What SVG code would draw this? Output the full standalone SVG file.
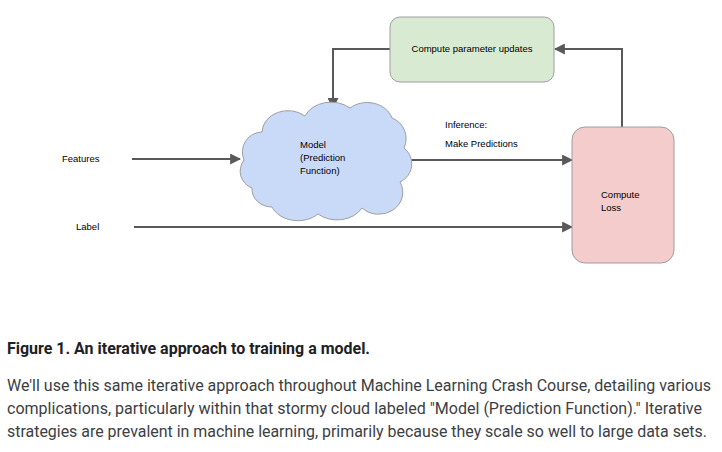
<svg xmlns="http://www.w3.org/2000/svg" width="722" height="452" viewBox="0 0 722 452">
<style>
.lbl{font-family:"Liberation Sans",Arial,sans-serif;font-size:9.5px;fill:#000}
.conn{stroke:#595959;stroke-width:2;fill:none}
.node{stroke:#9e9e9e;stroke-width:1}
.cap{font-family:Roboto,"Liberation Sans",sans-serif;font-weight:bold;font-size:16px;fill:#202124}
.para{font-family:Roboto,"Liberation Sans",sans-serif;font-size:16px;fill:#3c4043}
</style>
<defs>
<marker id="ah" viewBox="0 0 10 10" refX="9" refY="5" markerWidth="5.5" markerHeight="5.5" orient="auto" markerUnits="strokeWidth">
<path d="M0,0 L10,5 L0,10 Z" fill="#595959"/>
</marker>
</defs>
<rect width="722" height="452" fill="#fff"/>
<g id="connectors">
<path class="conn" d="M390,49 H333 V108" marker-end="url(#ah)"/>
<path class="conn" d="M622,127 V49 H555" marker-end="url(#ah)"/>
<path class="conn" d="M132,159 H240" marker-end="url(#ah)"/>
<path class="conn" d="M401,160 H572" marker-end="url(#ah)"/>
<path class="conn" d="M134,227 H572" marker-end="url(#ah)"/>
</g>
<g id="update">
<rect class="node" x="390" y="17" width="164" height="65" rx="10" fill="#d9ead3"/>
<text class="lbl" x="472" y="52" text-anchor="middle">Compute parameter updates</text>
</g>
<g id="model">
<path class="node" fill="#c9daf8" d="M252,188 A18,18 0 0 1 244,160 A20,20 0 0 1 262,132 A26,22 0 0 1 305,116 A28,22 0 0 1 350,108 A26,22 0 0 1 392,118 A22,22 0 0 1 404,148 A20,20 0 0 1 400,182 A24,22 0 0 1 362,208 A28,22 0 0 1 318,214 A28,22 0 0 1 272,207 A20,18 0 0 1 252,188 Z"/>
<text class="lbl" x="300" y="148">Model</text>
<text class="lbl" x="300" y="161">(Prediction</text>
<text class="lbl" x="300" y="174">Function)</text>
</g>
<g id="loss">
<rect class="node" x="572" y="127" width="102" height="136" rx="13" fill="#f4cccc"/>
<text class="lbl" x="601" y="198">Compute</text>
<text class="lbl" x="601" y="211">Loss</text>
</g>
<g id="features"><text class="lbl" x="62" y="162">Features</text></g>
<g id="label"><text class="lbl" x="76" y="230">Label</text></g>
<g id="inference">
<text class="lbl" x="445" y="128">Inference:</text>
<text class="lbl" x="445" y="147">Make Predictions</text>
</g>
<text class="cap" x="7" y="354" textLength="363" lengthAdjust="spacingAndGlyphs">Figure 1. An iterative approach to training a model.</text>
<text class="para" x="7" y="391" textLength="704" lengthAdjust="spacingAndGlyphs">We'll use this same iterative approach throughout Machine Learning Crash Course, detailing various</text>
<text class="para" x="7" y="414" textLength="695" lengthAdjust="spacingAndGlyphs">complications, particularly within that stormy cloud labeled "Model (Prediction Function)." Iterative</text>
<text class="para" x="7" y="437" textLength="700" lengthAdjust="spacingAndGlyphs">strategies are prevalent in machine learning, primarily because they scale so well to large data sets.</text>
</svg>
